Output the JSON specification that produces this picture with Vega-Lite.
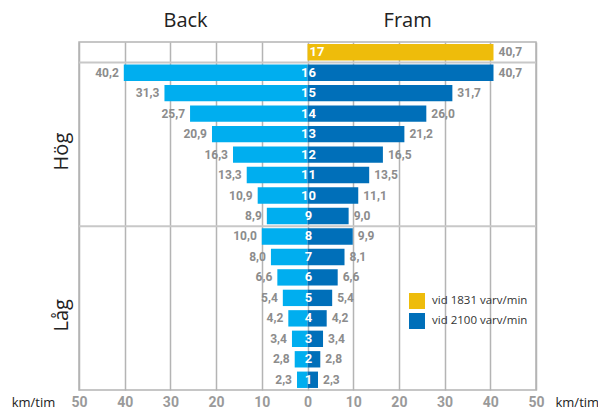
{
  "$schema": "https://vega.github.io/schema/vega-lite/v6.json",
  "autosize": {"type": "none"},
  "padding": {"left": 79, "top": 42, "right": 62, "bottom": 21},
  "width": 457,
  "height": 348,
  "background": "white",
  "config": {
    "view": {"stroke": "#b4b4b4", "strokeWidth": 1.5},
    "locale": {"number": {"decimal": ",", "thousands": " ", "grouping": [3], "currency": ["", ""]}}
  },
  "datasets": {
    "speeds": [
      {"gear": 17, "back": null, "fram": 40.7, "series": "vid 1831 varv/min"},
      {"gear": 16, "back": 40.2, "fram": 40.7, "series": "vid 2100 varv/min"},
      {"gear": 15, "back": 31.3, "fram": 31.7, "series": "vid 2100 varv/min"},
      {"gear": 14, "back": 25.7, "fram": 26.0, "series": "vid 2100 varv/min"},
      {"gear": 13, "back": 20.9, "fram": 21.2, "series": "vid 2100 varv/min"},
      {"gear": 12, "back": 16.3, "fram": 16.5, "series": "vid 2100 varv/min"},
      {"gear": 11, "back": 13.3, "fram": 13.5, "series": "vid 2100 varv/min"},
      {"gear": 10, "back": 10.9, "fram": 11.1, "series": "vid 2100 varv/min"},
      {"gear": 9, "back": 8.9, "fram": 9.0, "series": "vid 2100 varv/min"},
      {"gear": 8, "back": 10.0, "fram": 9.9, "series": "vid 2100 varv/min"},
      {"gear": 7, "back": 8.0, "fram": 8.1, "series": "vid 2100 varv/min"},
      {"gear": 6, "back": 6.6, "fram": 6.6, "series": "vid 2100 varv/min"},
      {"gear": 5, "back": 5.4, "fram": 5.4, "series": "vid 2100 varv/min"},
      {"gear": 4, "back": 4.2, "fram": 4.2, "series": "vid 2100 varv/min"},
      {"gear": 3, "back": 3.4, "fram": 3.4, "series": "vid 2100 varv/min"},
      {"gear": 2, "back": 2.8, "fram": 2.8, "series": "vid 2100 varv/min"},
      {"gear": 1, "back": 2.3, "fram": 2.3, "series": "vid 2100 varv/min"}
    ],
    "separators": [{"gear": 16}, {"gear": 8}]
  },
  "data": {"name": "speeds"},
  "resolve": {"axis": {"x": "independent", "y": "independent"}},
  "layer": [
    {
      "transform": [{"filter": "datum.back != null"}, {"calculate": "-datum.back", "as": "backNeg"}],
      "mark": {"type": "bar", "color": "#00AEEF", "height": {"band": 0.8}},
      "encoding": {
        "x": {
          "field": "backNeg", "type": "quantitative",
          "scale": {"domain": [-50, 50], "nice": false},
          "axis": {
            "orient": "bottom",
            "values": [-50, -40, -30, -20, -10, 0, 10, 20, 30, 40, 50],
            "labelExpr": "abs(datum.value)",
            "grid": true, "gridColor": "#b4b4b4", "gridWidth": 1.5,
            "ticks": false, "tickSize": 0, "domain": false,
            "labelFlush": false, "labelOverlap": false,
            "labelPadding": 5, "labelFontSize": 14, "labelFont": "Roboto", "labelFontWeight": "bold", "labelColor": "#9a9a9a",
            "title": "km/tim", "titleX": 476, "titleY": 12, "titleAlign": "left", "titleBaseline": "middle",
            "titleFont": "Open Sans", "titleFontSize": 13, "titleFontWeight": "normal", "titleColor": "#222222"
          }
        },
        "y": {
          "field": "gear", "type": "ordinal", "sort": "descending",
          "scale": {"type": "band", "paddingInner": 0, "paddingOuter": 0},
          "axis": {
            "orient": "left",
            "labelExpr": "datum.value == 12 ? 'Hög' : datum.value == 4 ? 'Låg' : ''",
            "labelAngle": 270, "labelAlign": "center", "labelBaseline": "bottom",
            "labelOffset": -3, "labelPadding": 8,
            "ticks": false, "tickSize": 0, "domain": false, "grid": false, "labelOverlap": false,
            "labelFont": "Open Sans", "labelFontSize": 20, "labelColor": "#222222",
            "title": "km/tim", "titleAngle": 0, "titleX": -46, "titleY": 360, "titleAlign": "center", "titleBaseline": "middle",
            "titleFont": "Open Sans", "titleFontSize": 13, "titleFontWeight": "normal", "titleColor": "#222222"
          }
        }
      }
    },
    {
      "mark": {"type": "bar", "height": {"band": 0.8}},
      "encoding": {
        "x": {
          "field": "fram", "type": "quantitative",
          "scale": {"domain": [-50, 50], "nice": false},
          "axis": {
            "orient": "top",
            "values": [-26.8, 21.8],
            "labelExpr": "datum.value < 0 ? 'Back' : 'Fram'",
            "grid": false, "ticks": false, "tickSize": 0, "domain": false,
            "labelFlush": false, "labelOverlap": false,
            "labelPadding": 12, "labelFont": "Open Sans", "labelFontSize": 20, "labelColor": "#222222",
            "title": null
          }
        },
        "y": {"field": "gear", "type": "ordinal", "sort": "descending", "scale": {"type": "band", "paddingInner": 0, "paddingOuter": 0}, "axis": null},
        "color": {
          "field": "series", "type": "nominal",
          "scale": {"domain": ["vid 1831 varv/min", "vid 2100 varv/min"], "range": ["#EEBC0B", "#006FB9"]},
          "legend": {
            "orient": "none", "legendX": 330, "legendY": 251, "title": null, "padding": 0,
            "symbolType": "square", "symbolSize": 256, "symbolStrokeWidth": 0, "symbolOpacity": 1,
            "labelFont": "Open Sans", "labelFontSize": 11.5, "labelColor": "#333333", "labelOffset": 7, "rowPadding": 4
          }
        }
      }
    },
    {
      "data": {"name": "separators"},
      "mark": {"type": "rule", "color": "#c8c8c8", "strokeWidth": 2},
      "encoding": {
        "y": {"field": "gear", "type": "ordinal", "sort": "descending", "bandPosition": 0, "scale": {"type": "band", "paddingInner": 0, "paddingOuter": 0}, "axis": null}
      }
    },
    {
      "transform": [{"filter": "datum.back != null"}, {"calculate": "-datum.back", "as": "backNeg"}],
      "mark": {"type": "text", "align": "right", "baseline": "middle", "dx": -5, "font": "Roboto", "fontWeight": "bold", "fontSize": 12, "color": "#8c8c8c"},
      "encoding": {
        "x": {"field": "backNeg", "type": "quantitative", "scale": {"domain": [-50, 50], "nice": false}, "axis": null},
        "y": {"field": "gear", "type": "ordinal", "sort": "descending", "scale": {"type": "band", "paddingInner": 0, "paddingOuter": 0}, "axis": null},
        "text": {"field": "back", "type": "quantitative", "format": ".1f"}
      }
    },
    {
      "mark": {"type": "text", "align": "left", "baseline": "middle", "dx": 5, "font": "Roboto", "fontWeight": "bold", "fontSize": 12, "color": "#8c8c8c"},
      "encoding": {
        "x": {"field": "fram", "type": "quantitative", "scale": {"domain": [-50, 50], "nice": false}, "axis": null},
        "y": {"field": "gear", "type": "ordinal", "sort": "descending", "scale": {"type": "band", "paddingInner": 0, "paddingOuter": 0}, "axis": null},
        "text": {"field": "fram", "type": "quantitative", "format": ".1f"}
      }
    },
    {
      "transform": [{"filter": "datum.gear != 17"}],
      "mark": {"type": "text", "align": "center", "baseline": "middle", "dx": 1, "font": "Roboto", "fontWeight": "bold", "fontSize": 13, "color": "white"},
      "encoding": {
        "x": {"datum": 0, "type": "quantitative", "scale": {"domain": [-50, 50], "nice": false}, "axis": null},
        "y": {"field": "gear", "type": "ordinal", "sort": "descending", "scale": {"type": "band", "paddingInner": 0, "paddingOuter": 0}, "axis": null},
        "text": {"field": "gear", "type": "nominal"}
      }
    },
    {
      "transform": [{"filter": "datum.gear == 17"}],
      "mark": {"type": "text", "align": "left", "baseline": "middle", "dx": 2, "font": "Roboto", "fontWeight": "bold", "fontSize": 13, "color": "white"},
      "encoding": {
        "x": {"datum": 0, "type": "quantitative", "scale": {"domain": [-50, 50], "nice": false}, "axis": null},
        "y": {"field": "gear", "type": "ordinal", "sort": "descending", "scale": {"type": "band", "paddingInner": 0, "paddingOuter": 0}, "axis": null},
        "text": {"field": "gear", "type": "nominal"}
      }
    }
  ]
}
